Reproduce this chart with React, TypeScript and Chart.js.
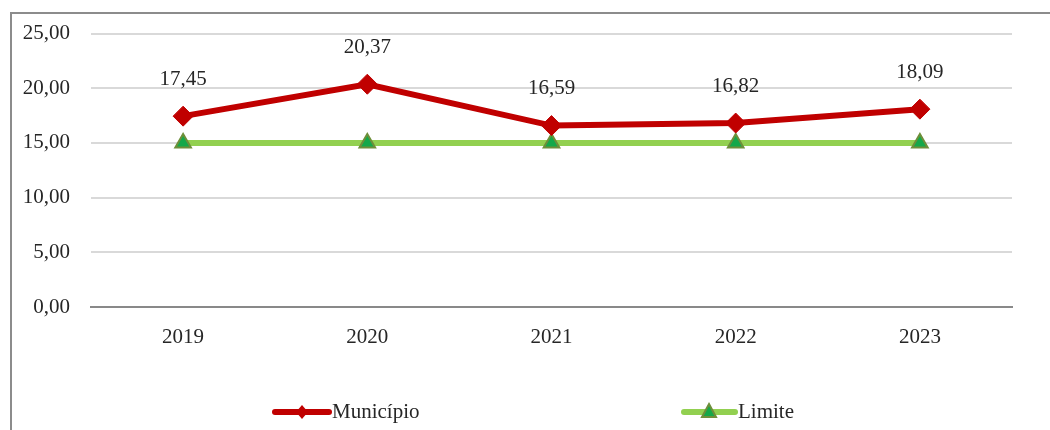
import React, { useEffect, useRef } from "react";
import { Chart, registerables } from "chart.js";

Chart.register(...registerables);

const categories = ["2019", "2020", "2021", "2022", "2023"];
const municipio = [17.45, 20.37, 16.59, 16.82, 18.09];
const limite = [15, 15, 15, 15, 15];
const yTicks = [0, 5, 10, 15, 20, 25];
const seriesNames = ["Município", "Limite"];

const FONT = "'Liberation Serif', 'Times New Roman', serif";
const FS = 21;
const fmt = (v: number) => v.toFixed(2).replace(".", ",");

const labelsPlugin = {
  id: "valueLabels",
  afterDatasetsDraw(chart: any) {
    const ctx = chart.ctx;
    const meta = chart.getDatasetMeta(0);
    ctx.save();
    ctx.font = `${FS}px ${FONT}`;
    ctx.fillStyle = "#262626";
    ctx.textAlign = "center";
    ctx.textBaseline = "middle";
    meta.data.forEach((pt: any, i: number) => {
      ctx.fillText(fmt(municipio[i]), pt.x, pt.y - 37);
    });
    ctx.restore();
  },
  afterDraw(chart: any) {
    const ctx = chart.ctx;
    const y = 412;
    ctx.save();
    // Município legend
    const d0 = chart.data.datasets[0];
    ctx.strokeStyle = d0.borderColor;
    ctx.lineWidth = 6;
    ctx.lineCap = "round";
    ctx.beginPath();
    ctx.moveTo(275, y);
    ctx.lineTo(329, y);
    ctx.stroke();
    ctx.fillStyle = d0.pointBackgroundColor;
    ctx.beginPath();
    ctx.moveTo(302, y - 7);
    ctx.lineTo(308, y);
    ctx.lineTo(302, y + 7);
    ctx.lineTo(296, y);
    ctx.closePath();
    ctx.fill();
    ctx.font = `${FS}px ${FONT}`;
    ctx.fillStyle = "#262626";
    ctx.textAlign = "left";
    ctx.textBaseline = "middle";
    ctx.fillText(seriesNames[0], 332, y);
    // Limite legend
    const d1 = chart.data.datasets[1];
    ctx.strokeStyle = d1.borderColor;
    ctx.lineWidth = 6;
    ctx.beginPath();
    ctx.moveTo(684, y);
    ctx.lineTo(735, y);
    ctx.stroke();
    ctx.fillStyle = d1.pointBackgroundColor;
    ctx.strokeStyle = d1.pointBorderColor;
    ctx.lineWidth = 2;
    ctx.beginPath();
    ctx.moveTo(709, y - 8);
    ctx.lineTo(716, y + 5);
    ctx.lineTo(702, y + 5);
    ctx.closePath();
    ctx.fill();
    ctx.stroke();
    ctx.fillStyle = "#262626";
    ctx.fillText(seriesNames[1], 738, y);
    ctx.restore();
  },
};

export default function App() {
  const ref = useRef<HTMLCanvasElement>(null);
  useEffect(() => {
    if (!ref.current) return;
    const chart = new Chart(ref.current, {
      type: "line",
      data: {
        labels: categories,
        datasets: [
          {
            label: seriesNames[0],
            data: municipio,
            borderColor: "#C00000",
            backgroundColor: "#C00000",
            borderWidth: 6,
            pointStyle: "rectRot",
            pointRadius: 10,
            pointBackgroundColor: "#C00000",
            pointBorderColor: "#C00000",
            pointBorderWidth: 1,
            tension: 0,
            order: 0,
          },
          {
            label: seriesNames[1],
            data: limite,
            borderColor: "#92D050",
            backgroundColor: "#92D050",
            borderWidth: 6,
            pointStyle: "triangle",
            pointRadius: 9,
            pointBackgroundColor: "#14A84A",
            pointBorderColor: "#6E8F3A",
            pointBorderWidth: 2,
            tension: 0,
            order: 1,
          },
        ],
      },
      options: {
        animation: false,
        responsive: false,
        layout: { padding: { left: 0, right: 38, top: 32, bottom: 73 } },
        plugins: {
          legend: { display: false },
          tooltip: { enabled: false },
        },
        scales: {
          x: {
            offset: true,
            grid: { display: false, drawTicks: false },
            border: { display: true, color: "#898989", width: 2 },
            ticks: {
              padding: 18,
              color: "#262626",
              font: { family: FONT, size: FS },
            },
            afterFit: (s: any) => {
              s.height = 50;
            },
          },
          y: {
            min: 0,
            max: 25,
            afterBuildTicks: (s: any) => {
              s.ticks = yTicks.map((v) => ({ value: v }));
            },
            grid: {
              color: (c: any) => (c.tick && c.tick.value === 0 ? "#898989" : "#D9D9D9"),
              lineWidth: 2,
              drawTicks: false,
            },
            border: { display: false },
            ticks: {
              padding: 21,
              color: "#262626",
              font: { family: FONT, size: FS },
              callback: (v: any) => fmt(Number(v)),
            },
            afterFit: (s: any) => {
              s.width = 91;
            },
          },
        },
      },
      plugins: [labelsPlugin],
    });
    return () => chart.destroy();
  }, []);

  return (
    <div style={{ position: "absolute", left: 0, top: 0, width: 1050, height: 430, overflow: "hidden", background: "#fff" }}>
      <div
        style={{
          position: "absolute",
          left: 10,
          top: 12,
          width: 1200,
          height: 600,
          borderTop: "2px solid #8C8C8C",
          borderLeft: "2px solid #8C8C8C",
        }}
      />
      <canvas ref={ref} width={1050} height={430} style={{ position: "absolute", left: 0, top: 0 }} />
    </div>
  );
}
